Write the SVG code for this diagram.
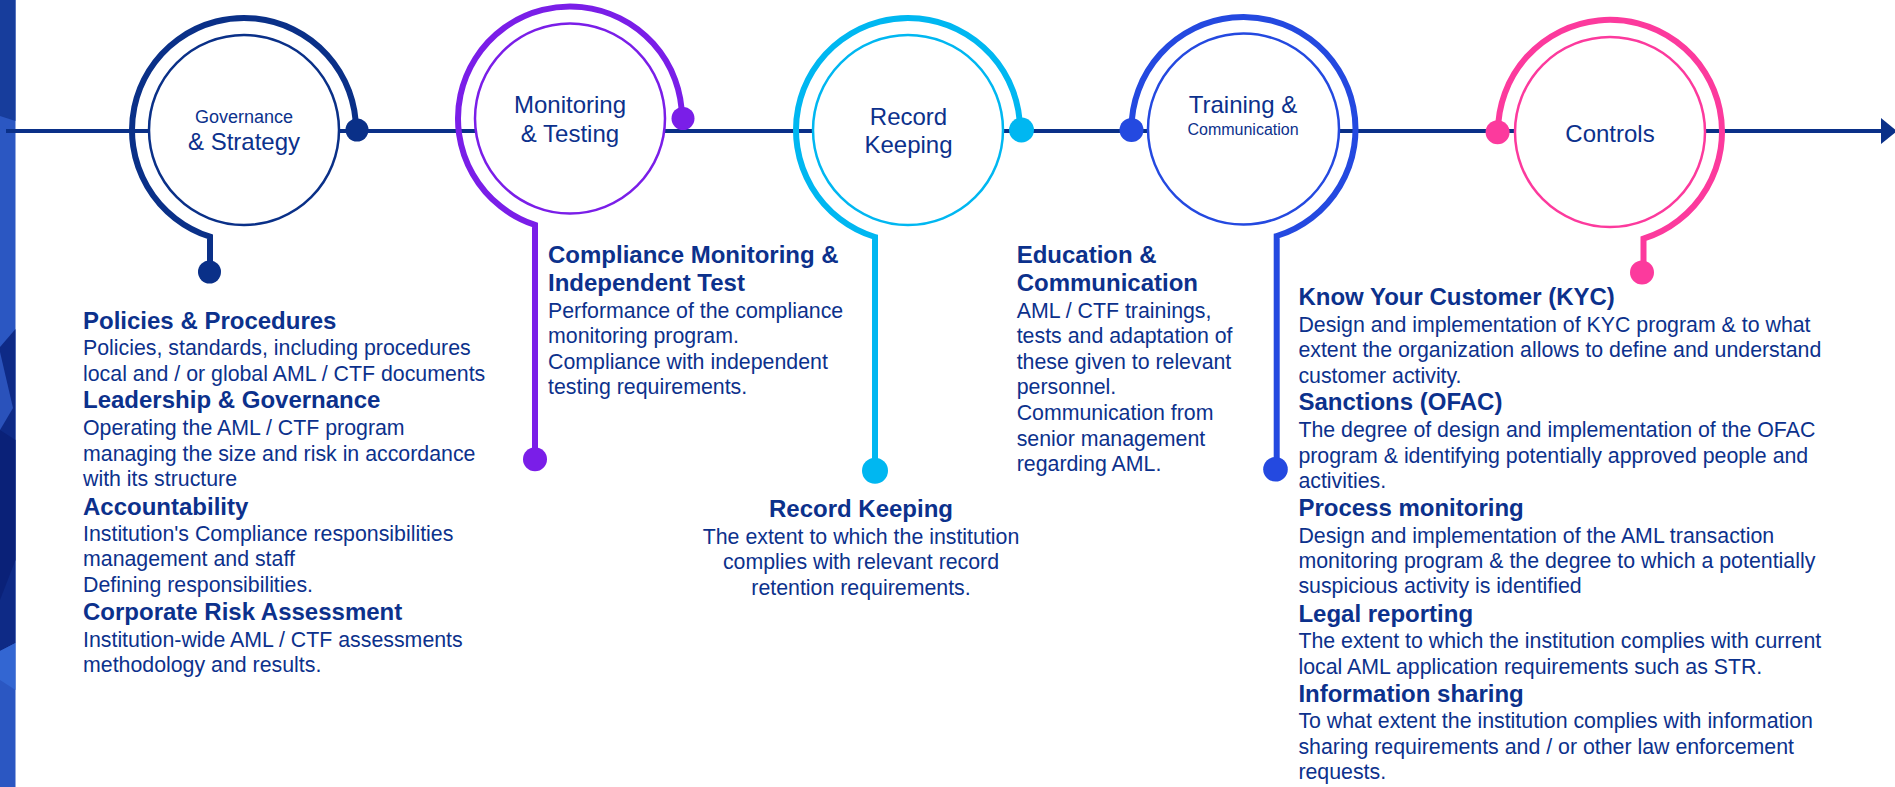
<svg xmlns="http://www.w3.org/2000/svg" width="1895" height="787" viewBox="0 0 1895 787">
  <style>
    text { font-family: "Liberation Sans", Arial, sans-serif; fill: #0c318c; }
    .h { font-weight: bold; font-size: 24px; }
    .r { font-size: 21.33px; }
    .lbl { font-size: 24px; text-anchor: middle; }
    .sm { font-size: 18px; text-anchor: middle; }
    .xs { font-size: 16px; text-anchor: middle; }
    .inner { fill: #ffffff; stroke-width: 2.5; }
    .arc { fill: none; stroke-width: 6; stroke-linejoin: miter; }
    .mid { text-anchor: middle; }
  </style>

  <rect x="0" y="0" width="1895" height="787" fill="#ffffff"/>

  <g id="left-strip">
    <rect x="0" y="0" width="15.5" height="787" fill="#2b57c2"/>
    <polygon points="0,0 15.5,0 15.5,121 0,116" fill="#173d9c"/>
    <polygon points="0,347 15.5,329 15.5,643 0,651" fill="#0e2a86"/>
    <polygon points="0,352 13,408 0,430" fill="#2a52bb"/>
    <polygon points="0,430 15.5,440 15.5,560 0,600" fill="#0a2178"/>
    <polygon points="0,651 15.5,643 15.5,690 0,680" fill="#3366d2"/>
  </g>

  <g id="connectors">
    <line x1="6" y1="131" x2="1882" y2="131" stroke="#0a3088" stroke-width="4"/>
    <polygon points="1881,118 1897,131 1881,144" fill="#0a3088"/>
  </g>

  <g id="node-governance">
    <circle class="inner" cx="244" cy="130" r="95" stroke="#0a3088"/>
    <path class="arc" stroke="#0a3088" d="M 356 130 A 112 112 0 1 0 210 236.7 L 210 272"/>
    <circle cx="357" cy="130" r="11.5" fill="#0a3088"/>
    <circle cx="209.5" cy="272" r="11.5" fill="#0a3088"/>
    <text class="sm" x="244" y="123">Governance</text>
    <text class="lbl" x="244" y="150">&amp; Strategy</text>
  </g>

  <g id="node-monitoring">
    <circle class="inner" cx="570" cy="118.5" r="95" stroke="#7a1ee8"/>
    <path class="arc" stroke="#7a1ee8" d="M 682 118.5 A 112 112 0 1 0 535 224.9 L 535 459"/>
    <circle cx="683" cy="118.5" r="11.5" fill="#7a1ee8"/>
    <circle cx="535" cy="459.3" r="12" fill="#7a1ee8"/>
    <text class="lbl" x="570" y="113">Monitoring</text>
    <text class="lbl" x="570" y="141.7">&amp; Testing</text>
  </g>

  <g id="node-record">
    <circle class="inner" cx="908" cy="130" r="95" stroke="#00b7f1"/>
    <path class="arc" stroke="#00b7f1" d="M 1020 130 A 112 112 0 1 0 875 237 L 875 470"/>
    <circle cx="1021.5" cy="130" r="12.5" fill="#00b7f1"/>
    <circle cx="875" cy="470.7" r="13" fill="#00b7f1"/>
    <text class="lbl" x="908.5" y="125">Record</text>
    <text class="lbl" x="908.5" y="153">Keeping</text>
  </g>

  <g id="node-training">
    <circle class="inner" cx="1243.5" cy="129" r="95.5" stroke="#2449e0"/>
    <path class="arc" stroke="#2449e0" d="M 1131.5 129 A 112 112 0 1 1 1276.7 236 L 1276.7 469"/>
    <circle cx="1131.5" cy="130" r="12" fill="#2449e0"/>
    <circle cx="1275.5" cy="469.3" r="12.3" fill="#2449e0"/>
    <text class="lbl" x="1243" y="113.3">Training &amp;</text>
    <text class="xs" x="1243" y="135">Communication</text>
  </g>

  <g id="node-controls">
    <circle class="inner" cx="1610" cy="132" r="95" stroke="#fc3a9d"/>
    <path class="arc" stroke="#fc3a9d" d="M 1498 132 A 112 112 0 1 1 1643.5 238.7 L 1643.5 272"/>
    <circle cx="1497.6" cy="132.3" r="12" fill="#fc3a9d"/>
    <circle cx="1642" cy="272.5" r="12" fill="#fc3a9d"/>
    <text class="lbl" x="1610" y="141.7">Controls</text>
  </g>

  <g id="text-governance">
    <text class="h" x="83" y="329">Policies &amp; Procedures</text>
    <text class="r" x="83" y="355">Policies, standards, including procedures</text>
    <text class="r" x="83" y="381">local and / or global AML / CTF documents</text>
    <text class="h" x="83" y="408">Leadership &amp; Governance</text>
    <text class="r" x="83" y="435">Operating the AML / CTF program</text>
    <text class="r" x="83" y="461">managing the size and risk in accordance</text>
    <text class="r" x="83" y="486">with its structure</text>
    <text class="h" x="83" y="515">Accountability</text>
    <text class="r" x="83" y="541">Institution's Compliance responsibilities</text>
    <text class="r" x="83" y="566">management and staff</text>
    <text class="r" x="83" y="592">Defining responsibilities.</text>
    <text class="h" x="83" y="620">Corporate Risk Assessment</text>
    <text class="r" x="83" y="647">Institution-wide AML / CTF assessments</text>
    <text class="r" x="83" y="672">methodology and results.</text>
  </g>

  <g id="text-monitoring">
    <text class="h" x="548" y="262.7">Compliance Monitoring &amp;</text>
    <text class="h" x="548" y="290.7">Independent Test</text>
    <text class="r" x="548" y="317.7">Performance of the compliance</text>
    <text class="r" x="548" y="343.3">monitoring program.</text>
    <text class="r" x="548" y="369">Compliance with independent</text>
    <text class="r" x="548" y="394">testing requirements.</text>
  </g>

  <g id="text-record">
    <text class="h mid" x="861" y="516.7">Record Keeping</text>
    <text class="r mid" x="861" y="544">The extent to which the institution</text>
    <text class="r mid" x="861" y="569.3">complies with relevant record</text>
    <text class="r mid" x="861" y="595">retention requirements.</text>
  </g>

  <g id="text-training">
    <text class="h" x="1016.7" y="262.7">Education &amp;</text>
    <text class="h" x="1016.7" y="290.7">Communication</text>
    <text class="r" x="1016.7" y="318.3">AML / CTF trainings,</text>
    <text class="r" x="1016.7" y="343.3">tests and adaptation of</text>
    <text class="r" x="1016.7" y="369">these given to relevant</text>
    <text class="r" x="1016.7" y="394">personnel.</text>
    <text class="r" x="1016.7" y="420">Communication from</text>
    <text class="r" x="1016.7" y="445.7">senior management</text>
    <text class="r" x="1016.7" y="470.7">regarding AML.</text>
  </g>

  <g id="text-controls">
    <text class="h" x="1298.4" y="305">Know Your Customer (KYC)</text>
    <text class="r" x="1298.4" y="331.7">Design and implementation of KYC program &amp; to what</text>
    <text class="r" x="1298.4" y="357.3">extent the organization allows to define and understand</text>
    <text class="r" x="1298.4" y="382.7">customer activity.</text>
    <text class="h" x="1298.4" y="410">Sanctions (OFAC)</text>
    <text class="r" x="1298.4" y="436.7">The degree of design and implementation of the OFAC</text>
    <text class="r" x="1298.4" y="462.7">program &amp; identifying potentially approved people and</text>
    <text class="r" x="1298.4" y="488.3">activities.</text>
    <text class="h" x="1298.4" y="516">Process monitoring</text>
    <text class="r" x="1298.4" y="542.7">Design and implementation of the AML transaction</text>
    <text class="r" x="1298.4" y="568.3">monitoring program &amp; the degree to which a potentially</text>
    <text class="r" x="1298.4" y="593.3">suspicious activity is identified</text>
    <text class="h" x="1298.4" y="621.7">Legal reporting</text>
    <text class="r" x="1298.4" y="648.3">The extent to which the institution complies with current</text>
    <text class="r" x="1298.4" y="674">local AML application requirements such as STR.</text>
    <text class="h" x="1298.4" y="701.7">Information sharing</text>
    <text class="r" x="1298.4" y="728.3">To what extent the institution complies with information</text>
    <text class="r" x="1298.4" y="754">sharing requirements and / or other law enforcement</text>
    <text class="r" x="1298.4" y="779.3">requests.</text>
  </g>
</svg>
